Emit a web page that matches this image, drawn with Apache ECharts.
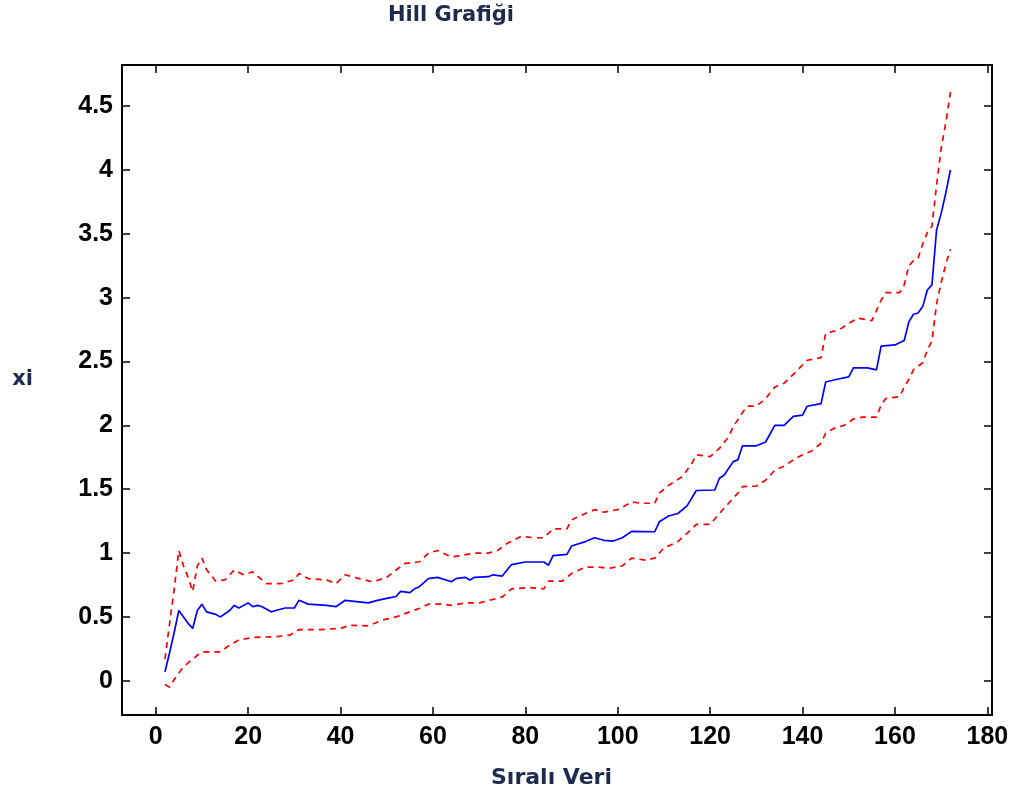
<!DOCTYPE html>
<html>
<head>
<meta charset="utf-8">
<script src="https://cdn.jsdelivr.net/npm/echarts@6/dist/echarts.min.js"></script>
<style>html,body{margin:0;padding:0;background:#fff}#c{width:1015px;height:800px}</style>
</head>
<body>
<div id="c"></div>
<script>
const titleText = 'Hill Grafiği';
const xName = 'Sıralı Veri';
const yName = 'xi';
const xTicks = [0, 20, 40, 60, 80, 100, 120, 140, 160, 180];
const yTicks = [0, 0.5, 1, 1.5, 2, 2.5, 3, 3.5, 4, 4.5];

// Hill estimate (k, xi)
const hillEstimate = [
  [2,0.07],[3,0.22],[4,0.38],[5,0.55],[6,0.50],[7,0.45],[8,0.41],[9,0.55],[10,0.60],[11,0.54],
  [13,0.52],[14,0.50],[16,0.55],[17,0.59],[18,0.57],[20,0.61],[21,0.58],[22,0.59],[23,0.58],
  [25,0.54],[26,0.55],[28,0.57],[30,0.57],[31,0.63],[33,0.60],[37,0.59],[39,0.58],[41,0.63],
  [46,0.61],[48,0.63],[50,0.645],[52,0.66],[53,0.70],[55,0.69],[56,0.72],[57,0.735],[59,0.80],
  [61,0.81],[64,0.775],[65,0.80],[67,0.81],[68,0.79],[69,0.81],[72,0.815],[73,0.83],[75,0.82],
  [77,0.91],[80,0.93],[84,0.93],[85,0.905],[86,0.98],[89,0.99],[90,1.055],[93,1.09],[95,1.12],
  [97,1.10],[99,1.094],[101,1.12],[103,1.17],[108,1.167],[109,1.245],[111,1.29],[113,1.31],
  [115,1.37],[117,1.49],[121,1.494],[122,1.586],[123,1.61],[125,1.716],[126,1.73],[127,1.84],
  [130,1.84],[132,1.87],[134,2.0],[136,2.0],[138,2.07],[140,2.08],[141,2.15],[144,2.17],
  [145,2.34],[147,2.357],[150,2.38],[151,2.45],[154,2.45],[156,2.435],[157,2.62],[160,2.63],
  [162,2.665],[163,2.81],[164,2.87],[165,2.88],[166,2.93],[167,3.06],[168,3.10],[169,3.53],
  [170,3.66],[171,3.82],[172,4.0]
];

// Upper confidence bound
const upperBound = [
  [2,0.17],[3,0.45],[4,0.72],[5,1.02],[6,0.90],[7,0.81],[8,0.70],[9,0.90],[10,0.96],[11,0.87],
  [13,0.78],[15,0.79],[17,0.867],[19,0.83],[21,0.853],[22,0.82],[24,0.76],[27,0.76],[30,0.79],
  [31,0.84],[33,0.80],[37,0.79],[39,0.76],[41,0.83],[44,0.80],[47,0.775],[50,0.81],[52,0.867],
  [54,0.92],[57,0.93],[59,1.0],[61,1.02],[64,0.97],[66,0.98],[69,1.0],[72,1.0],[74,1.02],
  [76,1.075],[79,1.13],[82,1.12],[84,1.12],[86,1.19],[89,1.19],[90,1.26],[93,1.31],[95,1.34],
  [97,1.32],[100,1.34],[103,1.40],[105,1.39],[108,1.39],[109,1.47],[111,1.53],[114,1.60],
  [116,1.70],[117,1.77],[120,1.755],[122,1.82],[124,1.91],[125,1.99],[127,2.10],[128,2.15],
  [130,2.15],[132,2.21],[134,2.30],[136,2.33],[138,2.40],[141,2.51],[144,2.53],[145,2.72],
  [148,2.75],[150,2.80],[152,2.84],[155,2.82],[157,2.98],[158,3.04],[161,3.04],[162,3.10],
  [163,3.25],[164,3.29],[165,3.31],[166,3.42],[167,3.51],[168,3.56],[169,3.88],[170,4.17],
  [171,4.37],[172,4.61]
];

// Lower confidence bound
const lowerBound = [
  [2,-0.03],[3,-0.05],[4,0.01],[5,0.06],[6,0.11],[7,0.14],[9,0.20],[10,0.226],[14,0.226],
  [16,0.28],[18,0.32],[21,0.34],[26,0.345],[29,0.357],[31,0.40],[35,0.40],[40,0.41],[42,0.435],
  [46,0.43],[49,0.475],[52,0.50],[55,0.54],[57,0.566],[59,0.60],[62,0.60],[64,0.59],[67,0.61],
  [70,0.61],[73,0.637],[75,0.657],[77,0.72],[81,0.73],[84,0.72],[85,0.78],[88,0.78],[90,0.84],
  [93,0.89],[96,0.89],[98,0.88],[101,0.90],[103,0.96],[106,0.945],[108,0.96],[110,1.04],
  [113,1.09],[115,1.155],[117,1.225],[120,1.225],[122,1.31],[124,1.39],[126,1.47],[127,1.52],
  [130,1.525],[132,1.57],[134,1.65],[136,1.68],[138,1.73],[140,1.77],[142,1.80],[144,1.86],
  [145,1.94],[147,1.98],[149,2.0],[151,2.05],[153,2.065],[156,2.065],[157,2.16],[158,2.21],
  [161,2.225],[162,2.30],[163,2.36],[164,2.435],[166,2.49],[167,2.59],[168,2.66],[169,2.95],
  [170,3.12],[171,3.26],[172,3.38]
];

const X_MIN = -7.3, X_MAX = 181.0, Y_MIN = -0.268, Y_MAX = 4.822;
const navy = '#1f2b4d';
const tickFont = { color: '#000', fontFamily: 'Liberation Sans', fontWeight: 'bold', fontSize: 25 };

const chart = echarts.init(document.getElementById('c'), null, { renderer: 'canvas' });

function xAxisDef(pos, main) {
  return {
    type: 'value', position: pos, min: X_MIN, max: X_MAX,
    axisLine: { show: true, onZero: false, lineStyle: { color: '#000', width: 2 } },
    axisTick: { show: true, inside: true, length: 8, customValues: xTicks, lineStyle: { color: '#000', width: 1.5 } },
    axisLabel: main ? Object.assign({ show: true, margin: 10, customValues: xTicks }, tickFont) : { show: false },
    splitLine: { show: false },
    name: main ? xName : '',
    nameLocation: 'middle', nameGap: 52,
    nameTextStyle: { color: navy, fontFamily: 'DejaVu Sans', fontWeight: 'bold', fontSize: 22, padding: [0, 11, 0, 0] }
  };
}
function yAxisDef(pos, main) {
  return {
    type: 'value', position: pos, min: Y_MIN, max: Y_MAX,
    axisLine: { show: true, onZero: false, lineStyle: { color: '#000', width: 2 } },
    axisTick: { show: true, inside: true, length: 8, customValues: yTicks, lineStyle: { color: '#000', width: 1.5 } },
    axisLabel: main ? Object.assign({ show: true, margin: 9, customValues: yTicks }, tickFont) : { show: false },
    splitLine: { show: false },
    name: main ? yName : '',
    nameLocation: 'middle', nameGap: 89, nameRotate: 0,
    nameTextStyle: { color: navy, fontFamily: 'DejaVu Sans', fontWeight: 'bold', fontSize: 21, align: 'right', verticalAlign: 'bottom' }
  };
}

chart.setOption({
  animation: false,
  backgroundColor: '#fff',
  title: {
    text: titleText, left: 388, top: 5, padding: 0,
    textStyle: { color: navy, fontFamily: 'DejaVu Sans', fontWeight: 'bold', fontSize: 21 }
  },
  grid: { left: 122, right: 23, top: 65, bottom: 85, containLabel: false },
  xAxis: [xAxisDef('bottom', true), xAxisDef('top', false)],
  yAxis: [yAxisDef('left', true), yAxisDef('right', false)],
  series: [
    { name: 'upper', type: 'line', data: upperBound, showSymbol: false, symbol: 'none',
      lineStyle: { color: '#ff0000', width: 1.7, type: [6, 5] }, z: 2 },
    { name: 'lower', type: 'line', data: lowerBound, showSymbol: false, symbol: 'none',
      lineStyle: { color: '#ff0000', width: 1.7, type: [6, 5] }, z: 2 },
    { name: 'xi', type: 'line', data: hillEstimate, showSymbol: false, symbol: 'none',
      lineStyle: { color: '#0000ff', width: 1.7 }, z: 3 }
  ]
});
</script>
</body>
</html>
